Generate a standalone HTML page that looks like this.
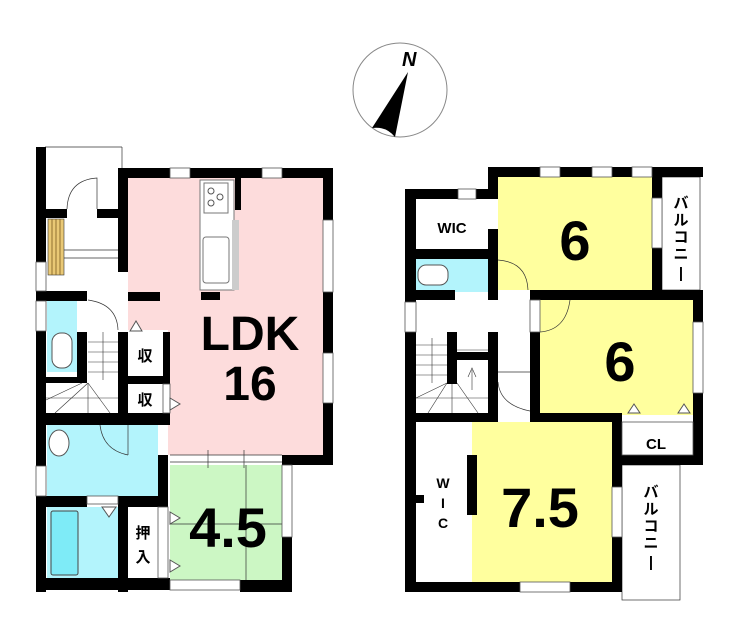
<!DOCTYPE html>
<html><head><meta charset="utf-8"><style>
html,body{margin:0;padding:0;background:#fff;width:740px;height:620px;overflow:hidden}
svg{display:block}
text{font-family:"Liberation Sans","Noto Sans CJK JP",sans-serif;font-weight:bold;fill:#000}
</style></head><body>
<svg width="740" height="620" viewBox="0 0 740 620" xmlns="http://www.w3.org/2000/svg">
<!-- compass -->
<circle cx="400" cy="90" r="47" fill="#fff" stroke="#888" stroke-width="1"/>
<path d="M408 72 L372 128 Q386 126 395 137 Z" fill="#000"/>
<text x="402" y="66" font-size="20" font-style="italic" font-weight="normal" font-family="Liberation Serif,serif">N</text>

<!-- ===== LEFT PLAN ===== -->
<rect x="128" y="178" width="195" height="152" fill="#fddcdc"/>
<rect x="168" y="300" width="155" height="155" fill="#fddcdc"/>
<rect x="170" y="465" width="112" height="118" fill="#ccf7c4"/>
<rect x="47" y="300" width="30" height="72" fill="#b3f4fc"/>
<rect x="47" y="425" width="111" height="71" fill="#b3f4fc"/>
<rect x="47" y="507" width="71" height="73" fill="#b3f4fc"/>
<rect x="51" y="511" width="27" height="64" rx="2" fill="#7eebf7" stroke="#444" stroke-width="1"/>
<rect x="48" y="219" width="16" height="56" fill="#e9c875" stroke="#333" stroke-width="0.6"/>
<g stroke="#7a5a20" stroke-width="0.8"><line x1="52" y1="219" x2="52" y2="275"/><line x1="56" y1="219" x2="56" y2="275"/><line x1="60" y1="219" x2="60" y2="275"/></g>
<g stroke="#333" stroke-width="0.7" fill="none">
<line x1="246" y1="465" x2="246" y2="583"/><line x1="170" y1="524" x2="282" y2="524"/>
<line x1="45" y1="147" x2="122" y2="147"/><line x1="122" y1="147" x2="122" y2="168"/>
<path d="M67 209 Q68 180 97 178 L97 209"/>
<line x1="64" y1="250" x2="118" y2="250"/><line x1="64" y1="258" x2="118" y2="258"/>
<line x1="170" y1="455" x2="282" y2="455"/><line x1="170" y1="462" x2="282" y2="462"/>
<line x1="208" y1="450" x2="208" y2="468"/><line x1="244" y1="450" x2="244" y2="468"/>
<path d="M88 300 Q117 304 118 330"/>
<g stroke-width="0.6"><line x1="88" y1="342" x2="118" y2="342"/><line x1="88" y1="352" x2="118" y2="352"/><line x1="88" y1="362" x2="118" y2="362"/><line x1="88" y1="372" x2="118" y2="372"/><line x1="103" y1="332" x2="103" y2="380"/>
<line x1="46" y1="400" x2="82" y2="383"/><line x1="55" y1="413" x2="88" y2="383"/><line x1="88" y1="383" x2="88" y2="413"/><line x1="88" y1="383" x2="110" y2="413"/><line x1="46" y1="398" x2="118" y2="398"/></g>
<path d="M128 455 Q103 450 100 425"/>
<line x1="128" y1="425" x2="128" y2="455"/>
</g>
<!-- kitchen -->
<rect x="200" y="180" width="34" height="110" fill="#fff" stroke="#777" stroke-width="1"/>
<rect x="204" y="183" width="24" height="30" fill="#fff" stroke="#777"/>
<circle cx="211" cy="191" r="3" fill="none" stroke="#555"/><circle cx="220" cy="197" r="3" fill="none" stroke="#555"/><circle cx="211" cy="203" r="3" fill="none" stroke="#555"/>
<rect x="203" y="237" width="26" height="46" rx="3" fill="#fff" stroke="#777"/>
<rect x="232" y="220" width="7" height="70" fill="#ccc"/>
<rect x="52" y="333" width="20" height="35" rx="9" fill="#fff" stroke="#555"/>
<ellipse cx="59" cy="443" rx="10" ry="13" fill="#fff" stroke="#555"/>
<g fill="#000">
<rect x="36" y="147" width="10" height="445"/>
<rect x="118" y="168" width="215" height="10"/>
<rect x="323" y="168" width="10" height="297"/>
<rect x="118" y="168" width="10" height="104"/>
<rect x="36" y="209" width="31" height="9"/><rect x="97" y="209" width="31" height="9"/>
<rect x="128" y="292" width="32" height="9"/>
<rect x="201" y="292" width="19" height="8"/>
<rect x="235" y="178" width="6" height="32"/>
<rect x="36" y="291" width="51" height="10"/>
<rect x="77" y="332" width="10" height="51"/>
<rect x="36" y="377" width="51" height="6"/>
<rect x="118" y="332" width="10" height="90"/>
<rect x="118" y="507" width="10" height="85"/>
<rect x="163" y="332" width="7" height="90"/>
<rect x="128" y="376" width="35" height="8"/>
<rect x="36" y="413" width="134" height="12"/>
<rect x="158" y="455" width="10" height="135"/>
<rect x="36" y="496" width="51" height="11"/><rect x="118" y="496" width="50" height="11"/>
<rect x="36" y="578" width="134" height="12"/>
<rect x="240" y="580" width="52" height="12"/>
<rect x="282" y="455" width="51" height="10"/>
<rect x="282" y="537" width="10" height="55"/>
</g>
<g fill="#fff" stroke="#555" stroke-width="0.8">
<rect x="170" y="168" width="20" height="10"/><rect x="262" y="168" width="20" height="10"/>
<rect x="323" y="220" width="10" height="72"/><rect x="323" y="353" width="10" height="50"/>
<rect x="36" y="262" width="10" height="29"/><rect x="36" y="301" width="10" height="30"/>
<rect x="36" y="466" width="10" height="30"/>
<rect x="282" y="465" width="10" height="72"/>
<rect x="170" y="580" width="70" height="10"/>
<rect x="87" y="496" width="31" height="8"/>
<rect x="158" y="507" width="10" height="71"/>
<rect x="163" y="384" width="7" height="29"/>
</g>
<path d="M130 331 L136 321 L142 331 Z" fill="#fff" stroke="#555"/>
<path d="M170 398 L180 404 L170 410 Z" fill="#fff" stroke="#555"/>
<path d="M170 512 L180 518 L170 524 Z" fill="#fff" stroke="#555"/>
<path d="M170 560 L180 566 L170 572 Z" fill="#fff" stroke="#555"/>
<path d="M102 507 L109 517 L116 507 Z" fill="#fff" stroke="#555"/>
<text x="250" y="350" font-size="48" text-anchor="middle">LDK</text>
<text x="250" y="400" font-size="48" text-anchor="middle">16</text>
<text x="145" y="361" font-size="15" text-anchor="middle">収</text>
<text x="145" y="405" font-size="15" text-anchor="middle">収</text>
<text x="143" y="538" font-size="15" text-anchor="middle">押</text>
<text x="143" y="562" font-size="15" text-anchor="middle">入</text>
<text x="228" y="547" font-size="56" text-anchor="middle">4.5</text>

<!-- ===== RIGHT PLAN ===== -->
<rect x="498" y="177" width="154" height="113" fill="#ffff9e"/>
<rect x="540" y="300" width="153" height="115" fill="#ffff9e"/>
<rect x="472" y="422" width="140" height="160" fill="#ffff9e"/>
<rect x="416" y="259" width="72" height="33" fill="#b3f4fc"/>
<rect x="418" y="265" width="30" height="20" rx="8" fill="#fff" stroke="#555"/>
<g stroke="#333" stroke-width="0.7" fill="none">
<rect x="662" y="177" width="38" height="113"/>
<rect x="622" y="465" width="58" height="135"/>
<path d="M498 260 Q527 262 528 290"/>
<path d="M540 332 Q566 330 570 300"/>
<path d="M498 382 Q500 405 530 411"/>
<g stroke-width="0.6"><line x1="416" y1="345" x2="447" y2="345"/><line x1="416" y1="355" x2="447" y2="355"/><line x1="416" y1="365" x2="447" y2="365"/><line x1="416" y1="375" x2="447" y2="375"/><line x1="432" y1="338" x2="432" y2="383"/>
<line x1="416" y1="398" x2="447" y2="383"/><line x1="428" y1="413" x2="447" y2="383"/><line x1="452" y1="383" x2="452" y2="413"/><line x1="457" y1="383" x2="478" y2="413"/><line x1="416" y1="398" x2="488" y2="398"/>
<line x1="472" y1="370" x2="472" y2="390"/><path d="M468 377 L472 368 L476 377"/>
<line x1="457" y1="350" x2="488" y2="350"/></g>
<line x1="498" y1="372" x2="530" y2="372"/>
</g>
<g fill="#000">
<rect x="488" y="167" width="215" height="10"/>
<rect x="488" y="167" width="10" height="22"/>
<rect x="405" y="189" width="93" height="10"/>
<rect x="405" y="189" width="11" height="403"/>
<rect x="652" y="167" width="10" height="128"/>
<rect x="405" y="249" width="93" height="10"/>
<rect x="488" y="229" width="10" height="71"/>
<rect x="405" y="290" width="50" height="10"/>
<rect x="530" y="290" width="173" height="10"/>
<rect x="693" y="290" width="10" height="175"/>
<rect x="530" y="332" width="10" height="90"/>
<rect x="530" y="413" width="92" height="9"/>
<rect x="612" y="455" width="91" height="10"/>
<rect x="612" y="413" width="10" height="179"/>
<rect x="447" y="332" width="10" height="52"/>
<rect x="457" y="352" width="31" height="8"/>
<rect x="488" y="332" width="10" height="90"/>
<rect x="405" y="413" width="93" height="9"/>
<rect x="467" y="455" width="10" height="60"/>
<rect x="416" y="495" width="8" height="8"/>
<rect x="405" y="582" width="217" height="10"/>
</g>
<g fill="#fff" stroke="#555" stroke-width="0.8">
<rect x="540" y="167" width="20" height="10"/><rect x="592" y="167" width="20" height="10"/><rect x="632" y="167" width="20" height="10"/>
<rect x="458" y="189" width="18" height="10"/>
<rect x="652" y="198" width="10" height="50"/>
<rect x="693" y="322" width="10" height="71"/>
<rect x="405" y="302" width="11" height="30"/>
<rect x="612" y="487" width="10" height="50"/>
<rect x="520" y="582" width="50" height="10"/>
<rect x="622" y="422" width="71" height="33"/>
<rect x="530" y="300" width="10" height="32"/>
</g>
<path d="M628 413 L634 404 L640 413 Z" fill="#fff" stroke="#555"/>
<path d="M678 413 L684 404 L690 413 Z" fill="#fff" stroke="#555"/>
<text x="452" y="233" font-size="15" text-anchor="middle">WIC</text>
<text x="656" y="449" font-size="15" text-anchor="middle">CL</text>
<text x="575" y="260" font-size="56" text-anchor="middle">6</text>
<text x="620" y="381" font-size="56" text-anchor="middle">6</text>
<text x="540" y="527" font-size="56" text-anchor="middle">7.5</text>
<text x="443" y="488" font-size="14" text-anchor="middle">W</text>
<text x="443" y="508" font-size="14" text-anchor="middle">I</text>
<text x="443" y="528" font-size="14" text-anchor="middle">C</text>
<g font-size="15" text-anchor="middle">
<text x="681" y="208">バ</text><text x="681" y="225">ル</text><text x="681" y="242">コ</text><text x="681" y="259">ニ</text><text x="681" y="278">|</text>
<text x="651" y="497">バ</text><text x="651" y="514">ル</text><text x="651" y="531">コ</text><text x="651" y="548">ニ</text><text x="651" y="567">|</text>
</g>
</svg>
</body></html>
